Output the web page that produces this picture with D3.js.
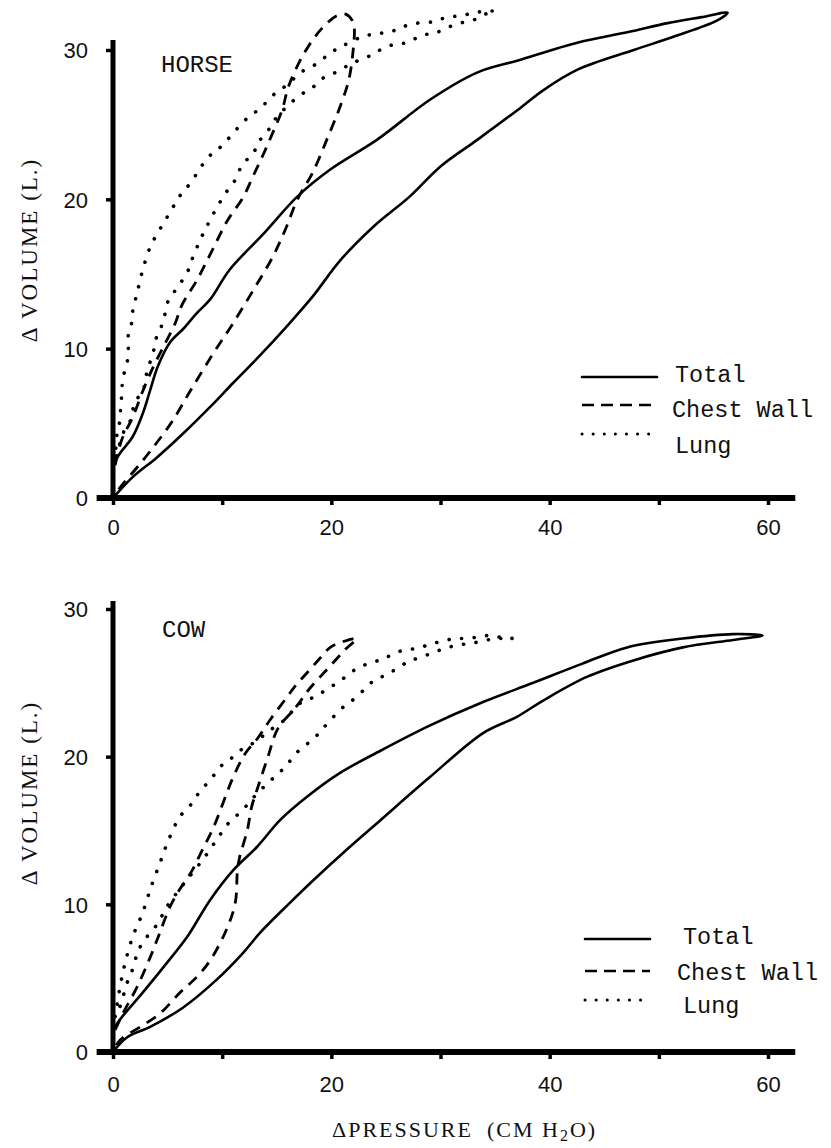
<!DOCTYPE html>
<html>
<head>
<meta charset="utf-8">
<script src="https://cdn.jsdelivr.net/npm/d3@7"></script>
<style>
  html, body { margin: 0; padding: 0; background: #fff; }
  svg { display: block; }
</style>
</head>
<body>
<script>
// ---------------- DATA ----------------
const seriesNames = ["Total", "Chest Wall", "Lung"];
const panelNames = ["HORSE", "COW"];
const xTicks = [0, 10, 20, 30, 40, 50, 60];
const xTickLabels = [0, 20, 40, 60];
const yTicks = [0, 10, 20, 30];
const xTitle = "\u0394PRESSURE";
const yTitle = "\u0394 VOLUME (L.)";

// [pressure cm H2O, volume L]  -- horse
const horseTotal = [
  [0,0],[1.8,1.4],[4.0,2.7],[6.4,4.3],[8.9,6.1],[11.0,7.7],[13.4,9.5],[15.8,11.4],[18.3,13.5],
  [20.8,15.9],[23.9,18.2],[27.2,20.2],[30.0,22.2],[33.4,24.0],[37.1,26.0],[39.4,27.3],[42.6,28.7],
  [47.7,30.0],[51.4,30.9],[55.4,32.0],[56.3,32.5],
  [53.9,32.2],[50.8,31.8],[47.2,31.2],[42.6,30.5],[37.1,29.3],[33.4,28.5],[29.1,26.7],[24.2,24.0],
  [19.9,22.0],[16.9,20.2],[13.8,17.7],[10.7,15.3],[8.9,13.3],[7.7,12.4],[6.4,11.3],[5.2,10.4],
  [4.1,8.8],[3.4,7.2],[2.75,5.7],[1.8,4.1],[0.64,3.0],[0,2.2]
];
const horseChest = [
  [0.2,2.2],[0.8,3.9],[1.8,5.4],[2.75,7.2],[3.7,8.8],[4.6,10.1],[5.7,11.7],[6.3,12.9],[7.7,14.6],
  [9.1,16.6],[10.5,18.6],[11.9,20.1],[12.8,21.5],[13.7,22.9],[14.6,24.4],[15.5,26.0],[16.1,27.6],
  [17.6,29.9],[19.2,31.5],[20.5,32.3],[21.3,32.4],[21.9,32.0],
  [22.1,31.5],[22.0,30.0],[21.6,28.0],[20.8,26.2],[19.7,24.2],[18.3,21.8],[16.9,20.0],[15.8,18.0],
  [14.6,16.1],[13.0,14.1],[11.0,11.7],[9.2,9.7],[7.1,7.2],[5.4,5.1],[4.0,3.7],[2.5,2.3],[0.64,0.7],[0,0]
];
const horseLung = [
  [0.2,2.5],[0.37,4.3],[0.64,5.2],[0.7,6.1],[0.8,6.9],[0.9,8.0],[1.3,9.1],[1.4,10.0],[1.4,10.9],
  [1.7,11.7],[1.8,12.5],[2.2,13.7],[2.7,15.2],[3.4,16.8],[4.3,18.0],[5.2,19.1],[6.1,20.2],[7.1,21.1],
  [8.7,22.8],[10.0,23.6],[11.2,24.6],[12.4,25.5],[13.5,26.1],[14.7,27.0],[16.0,27.7],[17.2,28.5],
  [18.7,29.1],[19.9,29.8],[21.1,30.3],[22.9,30.9],[24.2,31.1],[25.4,31.2],[26.3,31.5],[27.9,31.8],
  [29.4,31.9],[30.6,32.2],[32.0,32.3],[33.0,32.5],[35.0,32.6],
  [34.1,32.4],[33.0,32.0],[31.8,31.8],[30.6,31.5],[29.4,31.1],[28.3,31.0],[27.0,30.5],[25.9,30.4],
  [24.7,30.1],[23.8,29.7],[22.5,29.3],[21.6,29.0],[20.4,28.5],[19.2,28.1],[18.3,27.5],[17.0,26.9],
  [15.0,25.5],[14.2,24.6],[13.3,23.8],[12.8,23.0],[11.9,22.4],[11.2,21.3],[10.3,20.4],[9.4,19.3],
  [8.6,18.2],[8.0,17.3],[7.3,16.1],[6.8,15.1],[5.9,14.1],[5.0,13.1],[4.6,11.8],[4.0,10.8],[3.7,9.8],
  [3.1,8.4],[2.75,7.2],[2.0,6.4],[1.6,5.2],[0.9,4.3],[0.5,3.3],[0.2,2.5]
];

// cow
const cowTotal = [
  [0,0],[1.3,1.0],[3.4,1.7],[6.4,3.0],[9.5,4.9],[11.9,6.7],[13.5,8.1],[16.2,10.1],[18.3,11.6],
  [21.4,13.7],[24.5,15.7],[29.0,18.6],[33.9,21.6],[37.0,22.7],[39.4,23.8],[43.4,25.4],[47.6,26.5],
  [52.2,27.4],[56.8,27.9],[59.5,28.2],
  [56.8,28.3],[52.2,28.0],[47.1,27.4],[43.0,26.3],[38.5,25.0],[33.9,23.7],[29.0,22.1],[24.5,20.4],
  [20.8,18.9],[17.8,17.3],[15.3,15.7],[13.2,13.9],[11.0,12.3],[8.9,10.3],[6.8,7.8],[4.9,6.0],
  [2.7,4.0],[0.64,2.2],[0,1.5]
];
const cowChest = [
  [0.2,1.5],[0.9,2.6],[2.2,4.4],[3.4,6.4],[4.3,8.1],[5.2,9.8],[6.1,11.0],[7.1,12.1],[8.2,13.7],
  [9.2,15.2],[10.1,16.9],[11.0,18.6],[12.1,20.2],[13.3,21.3],[14.4,22.5],[15.9,24.0],[16.7,24.8],
  [17.8,25.7],[19.0,26.7],[19.9,27.4],[21.1,27.8],[22.3,28.0],
  [21.2,27.2],[19.6,25.9],[18.0,24.6],[16.7,23.3],[15.1,21.9],[14.2,20.0],[13.3,18.0],[12.7,16.6],
  [12.3,15.0],[11.6,13.2],[11.4,12.3],[11.2,10.1],[10.4,8.3],[8.9,6.2],[7.7,5.1],[6.1,4.0],
  [4.3,2.6],[2.5,1.7],[0.64,0.8],[0,0]
];
const cowLung = [
  [0.2,2.4],[0.64,4.4],[1.1,6.0],[1.8,7.8],[2.7,9.4],[3.5,11.2],[4.3,12.8],[5.0,14.2],[6.1,15.9],
  [7.3,16.9],[8.0,17.7],[8.9,18.4],[9.8,19.3],[10.7,19.8],[11.6,20.4],[12.8,20.9],[14.6,21.9],
  [15.9,22.6],[16.9,23.5],[18.3,24.0],[19.7,24.6],[21.1,25.3],[22.4,26.0],[23.8,26.4],[24.7,26.6],
  [26.1,27.1],[27.5,27.3],[28.6,27.5],[29.5,27.7],[30.6,27.9],[31.5,28.0],[32.4,28.0],[33.4,28.1],
  [34.3,28.2],[35.4,28.1],[36.6,28.0],
  [35.4,28.0],[34.3,27.9],[33.0,27.7],[32.0,27.6],[30.7,27.4],[29.5,27.1],[28.1,26.7],[27.2,26.5],
  [26.3,26.1],[25.4,25.7],[24.6,25.4],[23.8,25.1],[23.1,24.6],[21.9,23.8],[21.0,23.3],[19.7,22.3],
  [19.0,21.7],[18.2,21.1],[17.3,20.6],[16.5,20.0],[15.8,19.3],[15.0,18.8],[14.2,18.2],[13.3,17.6],
  [12.5,16.9],[11.6,16.2],[10.7,15.6],[9.8,14.7],[8.4,13.2],[6.5,11.4],[4.9,9.8],[4.1,8.7],
  [2.7,7.4],[2.2,6.6],[1.7,5.4],[1.3,4.7],[0.9,3.7],[0.5,2.8],[0.2,2.4]
];

// ---------------- LAYOUT / STYLE ----------------
const W = 831, H = 1148;
const svg = d3.select("body").append("svg").attr("width", W).attr("height", H)
  .style("background", "#fff");

const monoFont = "'Liberation Mono', 'DejaVu Sans Mono', monospace";
const serifFont = "'Liberation Serif', 'DejaVu Serif', serif";
const sansFont = "'Liberation Sans', 'DejaVu Sans', sans-serif";

const styles = [
  { dash: null, cap: "round", width: 2.6 },
  { dash: "11 8", cap: "butt", width: 2.8 },
  { dash: "0.1 12.5", cap: "round", width: 3.6 }
];

const panels = [
  { name: panelNames[0], series: [horseTotal, horseChest, horseLung],
    yRange: [498, 50], axisTop: 40, nameXY: [161, 72], ylabelY: 250,
    legend: { x0: 582, x1: 657, lineY: [377, 405, 434], textX: [675, 672, 675], textY: [382, 417, 453] },
    xPad: 14 },
  { name: panelNames[1], series: [cowTotal, cowChest, cowLung],
    yRange: [1052, 609], axisTop: 601, nameXY: [162, 637], ylabelY: 793,
    legend: { x0: 585, x1: 650, lineY: [939, 971, 1000], textX: [683, 677, 683], textY: [944, 980, 1013] },
    xPad: 17 }
];

const x = d3.scaleLinear().domain([0, 60]).range([113, 768]);

panels.forEach(p => {
  const y = d3.scaleLinear().domain([0, 30]).range(p.yRange);
  const g = svg.append("g");

  // curves
  const line = d3.line().x(d => x(d[0])).y(d => y(d[1])).curve(d3.curveCatmullRom.alpha(0.5));
  p.series.forEach((s, i) => {
    const st = styles[i];
    g.append("path").datum(s).attr("d", line)
      .attr("fill", "none").attr("stroke", "#000")
      .attr("stroke-width", st.width)
      .attr("stroke-linecap", st.cap)
      .attr("stroke-linejoin", "round")
      .attr("stroke-dasharray", st.dash);
  });

  // y axis
  const yAxis = d3.axisLeft(y).tickValues(yTicks).tickSize(7).tickPadding(18);
  const gy = g.append("g").attr("transform", `translate(${x(0)},0)`).call(yAxis);
  gy.select(".domain").remove();
  gy.selectAll(".tick line").attr("stroke", "#000").attr("stroke-width", 3.5);
  gy.selectAll(".tick text").attr("font-family", sansFont).attr("font-size", 22)
    .attr("fill", "#111").attr("dy", "0.36em");
  g.append("line").attr("x1", x(0)).attr("x2", x(0))
    .attr("y1", y(0) + 3).attr("y2", p.axisTop)
    .attr("stroke", "#000").attr("stroke-width", 5);

  // x axis
  const xAxis = d3.axisBottom(x).tickValues(xTicks).tickSize(7).tickPadding(p.xPad)
    .tickFormat(d => xTickLabels.includes(d) ? d : "");
  const gx = g.append("g").attr("transform", `translate(0,${y(0)})`).call(xAxis);
  gx.select(".domain").remove();
  gx.selectAll(".tick line").attr("stroke", "#000").attr("stroke-width", 3.5);
  gx.selectAll(".tick text").attr("font-family", sansFont).attr("font-size", 22).attr("fill", "#111");
  g.append("line").attr("x1", x(-1.5)).attr("x2", x(62.5))
    .attr("y1", y(0)).attr("y2", y(0))
    .attr("stroke", "#000").attr("stroke-width", 6);

  // panel name
  g.append("text").attr("x", p.nameXY[0]).attr("y", p.nameXY[1])
    .attr("font-family", monoFont).attr("font-size", 24).attr("fill", "#111")
    .text(p.name);

  // y title
  g.append("text")
    .attr("transform", `translate(37,${p.ylabelY}) rotate(-90)`)
    .attr("text-anchor", "middle")
    .attr("font-family", serifFont).attr("font-size", 23)
    .attr("letter-spacing", 2).attr("fill", "#111")
    .text(yTitle);

  // legend
  const L = p.legend;
  seriesNames.forEach((nm, i) => {
    const st = styles[i];
    g.append("line").attr("x1", L.x0).attr("x2", L.x1)
      .attr("y1", L.lineY[i]).attr("y2", L.lineY[i])
      .attr("stroke", "#000").attr("stroke-width", i === 2 ? 3 : 2.6)
      .attr("stroke-linecap", st.cap)
      .attr("stroke-dasharray", i === 1 ? "12 7" : (i === 2 ? "0.1 11" : null));
    g.append("text").attr("x", L.textX[i]).attr("y", L.textY[i])
      .attr("font-family", monoFont).attr("font-size", 23.5).attr("fill", "#111")
      .text(nm);
  });
});

// x title
const xt = svg.append("text").attr("x", 332).attr("y", 1137)
  .attr("font-family", serifFont).attr("font-size", 22).attr("fill", "#111")
  .attr("letter-spacing", 2)
  .style("white-space", "pre");
xt.append("tspan").text(xTitle);
xt.append("tspan").attr("dx", 14).text("(CM H");
xt.append("tspan").attr("dy", 4).attr("font-size", 16).text("2");
xt.append("tspan").attr("dy", -4).text("O)");
</script>
</body>
</html>
